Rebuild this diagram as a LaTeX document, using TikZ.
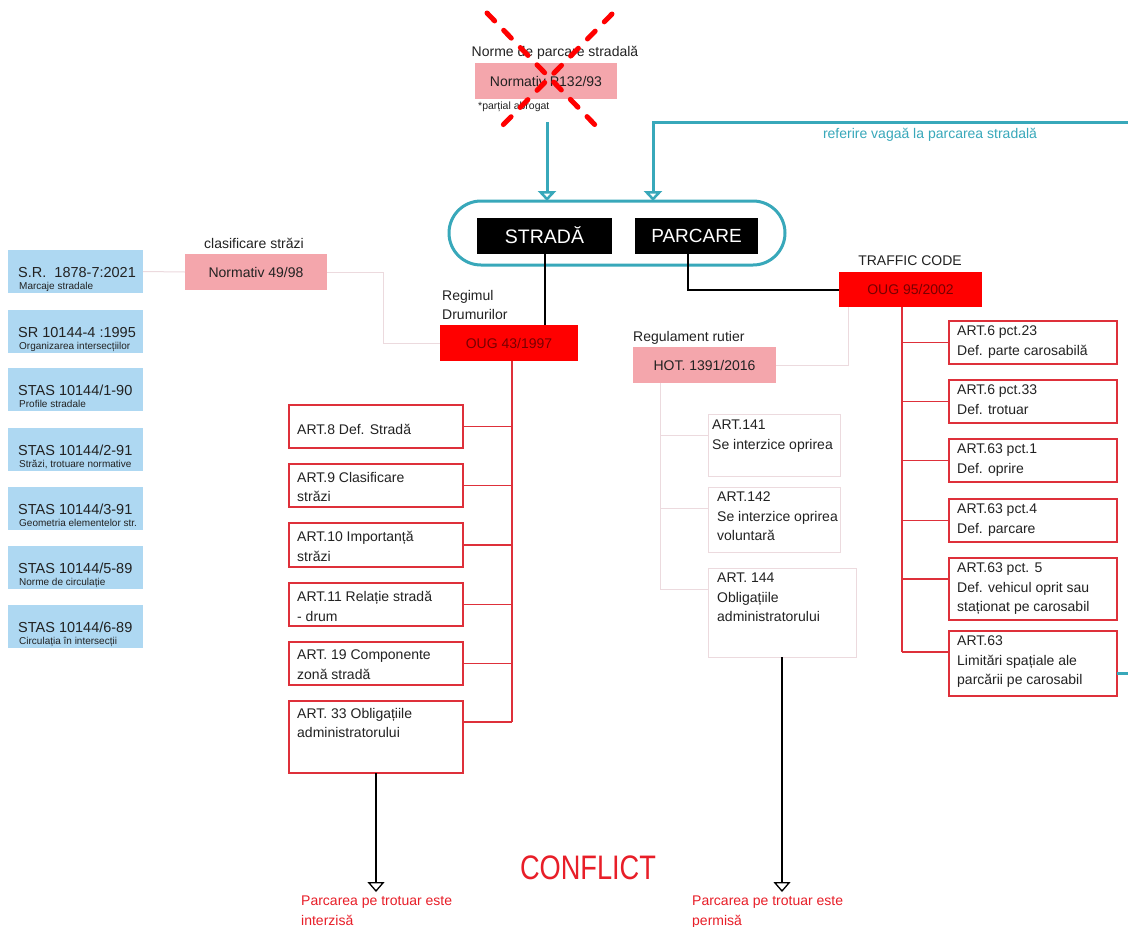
\documentclass[tikz,border=0pt]{standalone}
\usepackage{fontspec}
\setmainfont{Liberation Sans}
\usetikzlibrary{arrows.meta,calc}
\definecolor{tealc}{RGB}{56,168,186}
\definecolor{pinkc}{RGB}{244,166,172}
\definecolor{redc}{RGB}{255,0,0}
\definecolor{bluec}{RGB}{174,216,242}
\definecolor{redline}{RGB}{222,48,58}
\definecolor{lightl}{RGB}{236,218,222}
\definecolor{darkred}{RGB}{120,0,0}
\definecolor{txt}{RGB}{34,34,34}
\definecolor{redtxt}{RGB}{232,30,40}
\begin{document}
\begin{tikzpicture}[x=1pt,y=-1pt,
  f14/.style={font=\fontsize{14}{19.5}\selectfont},
  lab/.style={f14,text=txt,inner sep=0pt},
  boxbase/.style={inner sep=0pt,outer sep=0pt},
  pinkbox/.style={boxbase,fill=pinkc,f14,text=txt},
  redbox/.style={boxbase,fill=redc,f14,text=darkred},
  blkbox/.style={boxbase,fill=black,text=white,font=\fontsize{19.5}{22}\selectfont},
  bluebox/.style={boxbase,fill=bluec},
  artbox/.style={boxbase,draw=redline,line width=1.5pt},
  hotbox/.style={boxbase,draw=lightl,line width=1pt},
  bigt/.style={font=\fontsize{14.5}{16}\selectfont,text=txt,inner sep=0pt,anchor=base west},
  smallt/.style={font=\fontsize{10}{12}\selectfont,text=txt,inner sep=0pt,anchor=base west},
  boxtxt/.style={lab,align=left,anchor=north west,yshift=10pt,execute at begin node={\strut}},
  redtree/.style={draw=redline,line width=1.5pt},
  lightc/.style={draw=lightl,line width=1pt},
  blkc/.style={draw=black,line width=2pt},
  blkarrow/.style={draw=black,line width=1.3pt,-{Triangle[open,width=17pt,length=10pt]}},
  tealarrow/.style={draw=tealc,line width=3pt,-{Triangle[open,width=18pt,length=10pt]}},
  redx/.style={draw=red,line width=5pt,dash pattern=on 11pt off 13pt,line cap=round},
  redlab/.style={boxtxt,text=redtxt}
]
\useasboundingbox (0,0) rectangle (1128,927);
\fill[white] (0,0) rectangle (1128,927);

% ---- top normativ
\node[lab] (tnorm) at (555,53) {Norme de parcare stradală};
\node[pinkbox,minimum width=142pt,minimum height=36pt] (p132) at (546,81) {Normativ P132/93};
\node[lab,font=\fontsize{10.5}{12}\selectfont,anchor=west] (abrog) at (478,107) {*parțial abrogat};

% ---- capsule
\node[boxbase,draw=tealc,line width=3pt,rounded corners=32pt,minimum width=336pt,minimum height=64pt] (caps) at (617,233) {};
\node[blkbox,minimum width=135pt,minimum height=36pt] (strada) at (544.5,235.5) {STRADĂ};
\node[blkbox,minimum width=123pt,minimum height=36pt,font=\fontsize{19}{22}\selectfont] (parcare) at (696.5,235.5) {PARCARE};

% ---- main laws
\node[pinkbox,minimum width=142pt,minimum height=36pt] (n4998) at (256,272) {Normativ 49/98};
\node[lab] (lclas) at (254,243) {clasificare străzi};
\node[redbox,minimum width=138pt,minimum height=36pt] (oug43) at (509,343) {OUG 43/1997};
\node[boxtxt] (lreg) at (442,300) {Regimul\\Drumurilor};
\node[redbox,minimum width=143pt,minimum height=35pt] (oug95) at (910.5,289.5) {OUG 95/2002};
\node[lab] (ltraf) at (910,261) {TRAFFIC CODE};
\node[pinkbox,minimum width=143pt,minimum height=36pt] (hot) at (704.5,365) {HOT. 1391/2016};
\node[lab,anchor=base west] (lrut) at (633,341) {Regulament rutier};

% ---- blue standards
\foreach \n/\c/\big/\small in {
  b1/271.5/{S.R.\ \ 1878-7:2021}/{Marcaje stradale},
  b2/331.5/{SR 10144-4 :1995}/{Organizarea intersecțiilor},
  b3/389.5/{STAS 10144/1-90}/{Profile stradale},
  b4/449.5/{STAS 10144/2-91}/{Străzi, trotuare normative},
  b5/508.5/{STAS 10144/3-91}/{Geometria elementelor str.},
  b6/567.5/{STAS 10144/5-89}/{Norme de circulație},
  b7/626.5/{STAS 10144/6-89}/{Circulația în intersecții}}{
  \node[bluebox,minimum width=135pt,minimum height=43pt] (\n) at (75.5,\c) {};
  \node[bigt] (\n t) at (18,\c+5.5) {\big};
  \node[smallt] (\n s) at (19,\c+17.5) {\small};
}

% ---- left articles (OUG 43)
\node[artbox,minimum width=174pt,minimum height=43pt] (a8) at (376,426.5) {};
\node[artbox,minimum width=174pt,minimum height=43pt] (a9) at (376,485.5) {};
\node[artbox,minimum width=174pt,minimum height=44pt] (a10) at (376,545) {};
\node[artbox,minimum width=174pt,minimum height=43pt] (a11) at (376,604.5) {};
\node[artbox,minimum width=174pt,minimum height=43pt] (a19) at (376,663.5) {};
\node[artbox,minimum width=174pt,minimum height=72pt] (a33) at (376,737) {};
\node[boxtxt] (a8t) at (297,431) {ART.8 Def. Stradă};
\node[boxtxt] (a9t) at (297,482) {ART.9 Clasificare\\străzi};
\node[boxtxt] (a10t) at (297,541) {ART.10 Importanță\\străzi};
\node[boxtxt] (a11t) at (297,601) {ART.11 Relație stradă\\- drum};
\node[boxtxt] (a19t) at (297,660) {ART. 19 Componente\\zonă stradă};
\node[boxtxt] (a33t) at (297,718) {ART. 33 Obligațiile\\administratorului};

% ---- right articles (OUG 95)
\node[artbox,minimum width=168pt,minimum height=43pt] (r1) at (1033,342.5) {};
\node[artbox,minimum width=168pt,minimum height=43pt] (r2) at (1033,401.5) {};
\node[artbox,minimum width=168pt,minimum height=43pt] (r3) at (1033,460.5) {};
\node[artbox,minimum width=168pt,minimum height=43pt] (r4) at (1033,520.5) {};
\node[artbox,minimum width=168pt,minimum height=62pt] (r5) at (1033,589) {};
\node[artbox,minimum width=168pt,minimum height=65pt] (r6) at (1033,663.5) {};
\node[boxtxt] (r1t) at (957,336) {ART.6 pct.23\\Def. parte carosabilă};
\node[boxtxt] (r2t) at (957,395) {ART.6 pct.33\\Def. trotuar};
\node[boxtxt] (r3t) at (957,454) {ART.63 pct.1\\Def. oprire};
\node[boxtxt] (r4t) at (957,514) {ART.63 pct.4\\Def. parcare};
\node[boxtxt] (r5t) at (957,573) {ART.63 pct. 5\\Def. vehicul oprit sau\\staționat pe carosabil};
\node[boxtxt] (r6t) at (957,646) {ART.63\\Limitări spațiale ale\\parcării pe carosabil};

% ---- HOT articles
\node[hotbox,minimum width=132pt,minimum height=62pt] (h141) at (774,445) {};
\node[hotbox,minimum width=132pt,minimum height=65pt] (h142) at (774,519.5) {};
\node[hotbox,minimum width=148pt,minimum height=89pt] (h144) at (782,612.5) {};
\node[boxtxt] (h141t) at (712,430) {ART.141\\Se interzice oprirea};
\node[boxtxt] (h142t) at (717,502) {ART.142\\Se interzice oprirea\\voluntară};
\node[boxtxt] (h144t) at (717,583) {ART. 144\\Obligațiile\\administratorului};

% ---- red X over P132/93
\draw[redx] (487,13) -- (598,128);
\draw[redx] (612,14) -- (500,128);

% ---- teal connectors
\coordinate (t1) at (547,122);
\draw[tealarrow] (t1) -- (t1 |- caps.north);
\coordinate (t2) at (653,122);
\coordinate (t3) at (1140,122);
\coordinate (t4) at (1140,673);
\draw[tealarrow] ($(r6.east)+(0,9.5)$) -- (t4) -- (t3) -- (t2) -- (t2 |- caps.north);
\node[lab,text=tealc] (lref) at (930,135) {referire vagaă la parcarea stradală};

% ---- black connectors
\draw[blkc] (strada.south) -- (strada.south |- oug43.north);
\coordinate (pc) at (688,253);
\draw[blkc] (pc) |- (oug95.west);

% ---- light connectors
\draw[lightc] (b1.east) -- (n4998.west);
\draw[lightc] (n4998.east) -- ++(56,0) |- (oug43.west);
\coordinate (hc) at (848,307);
\draw[lightc] (hot.east) -| (hc);
\coordinate (hv) at (660,383);
\draw[lightc] (hv) -- (hv |- {$(h144.north west)+(0,21)$});
\foreach \b in {h141,h142,h144}{
  \draw[lightc] ($(\b.north west)+(0,21)$) -- (hv |- {$(\b.north west)+(0,21)$});
}

% ---- red trees
\coordinate (v43) at (512,361);
\draw[redtree] (v43) -- (v43 |- {$(a33.north east)+(0,21)$});
\foreach \b in {a8,a9,a10,a11,a19}{
  \draw[redtree] (\b.east) -- (\b.east -| v43);
}
\draw[redtree] ($(a33.north east)+(0,21)$) -- (v43 |- {$(a33.north east)+(0,21)$});
\coordinate (v95) at (902,307);
\draw[redtree] (v95) -- (v95 |- {$(r6.north west)+(0,21)$});
\foreach \b in {r1,r2,r3,r4}{
  \draw[redtree] (\b.west) -- (\b.west -| v95);
}
\foreach \b in {r5,r6}{
  \draw[redtree] ($(\b.north west)+(0,21)$) -- (v95 |- {$(\b.north west)+(0,21)$});
}

% ---- conclusions
\coordinate (e1) at (376,892);
\draw[blkarrow] (a33.south) -- (e1);
\coordinate (e2) at (782,892);
\draw[blkarrow] (h144.south) -- (e2);
\node[redlab] (c1) at (301,906) {Parcarea pe trotuar este\\interzisă};
\node[redlab] (c2) at (692,906) {Parcarea pe trotuar este\\permisă};
\node[inner sep=0pt,text=redtxt,font=\fontsize{34}{36}\selectfont,xscale=0.8] (conf) at (588,868) {CONFLICT};
\end{tikzpicture}
\end{document}
